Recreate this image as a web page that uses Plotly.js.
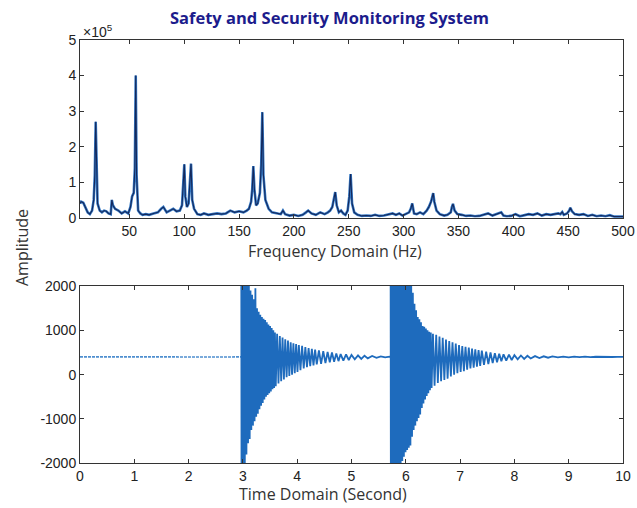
<!DOCTYPE html>
<html>
<head>
<meta charset="utf-8">
<script src="https://cdn.plot.ly/plotly-3.0.1.min.js"></script>
<style>html,body{margin:0;padding:0;background:#fff;}#chart{width:637px;height:508px;}</style>
</head>
<body>
<div id="chart"></div>
<script>
// ---------- Frequency domain spectrum (amplitude in units of 1e5) ----------
var specFreq = [5,6,8,10,12,14,16,17.5,18.5,19.3,20,21,23,25,27,29,31,33,34,35,37,40,43,46,49,51,52.5,54,55,55.8,56.6,58,60,62,65,68,72,76,79,81,84,87,90,93,96,98,99,100.1,101,102.5,104,105,106.2,107.3,109,112,115,118,122,126,130,134,138,142,146,150,154,157,159,161,162,163,164,165.5,167,169,170.2,171.2,172.2,174,177,180,184,188,190,192,196,200,204,208,211,213,216,220,224,228,231,233,235,236.5,237.7,239,241,243,245,247,249,250.5,251.7,253,255,258,262,266,270,274,278,282,286,290,293,296,299,302,305,306.5,307.9,309.5,312,315,318,321,323,325,326,327,328,330,333,337,340,343,344,345,346.5,349,353,357,361,365,369,373,377,381,385,387,389,391,394,398,402,406,410,414,418,422,426,430,434,438,441,443,444.6,446,449,451,452,453.5,456,460,464,468,472,476,480,484,488,492,496,500];
var specAmp = [0.4,0.45,0.42,0.3,0.15,0.1,0.2,0.5,1.2,2.7,1.5,0.4,0.2,0.15,0.2,0.18,0.12,0.1,0.5,0.35,0.25,0.2,0.12,0.18,0.12,0.3,0.6,0.7,1.4,4.0,1.2,0.2,0.12,0.08,0.1,0.08,0.12,0.15,0.25,0.3,0.15,0.2,0.25,0.18,0.2,0.35,0.8,1.5,0.6,0.3,0.4,0.8,1.52,0.5,0.25,0.1,0.08,0.12,0.08,0.1,0.12,0.1,0.12,0.2,0.15,0.18,0.15,0.2,0.25,0.45,0.8,1.45,0.8,0.35,0.4,0.7,1.5,2.97,1.2,0.5,0.25,0.15,0.12,0.1,0.2,0.1,0.06,0.08,0.05,0.08,0.15,0.2,0.12,0.08,0.15,0.1,0.15,0.2,0.3,0.5,0.72,0.35,0.15,0.2,0.12,0.08,0.2,0.6,1.23,0.4,0.15,0.08,0.05,0.06,0.05,0.08,0.05,0.06,0.1,0.12,0.08,0.12,0.06,0.1,0.15,0.25,0.4,0.12,0.1,0.15,0.1,0.2,0.3,0.45,0.55,0.69,0.45,0.2,0.1,0.06,0.08,0.15,0.3,0.39,0.2,0.1,0.08,0.05,0.06,0.04,0.05,0.08,0.12,0.06,0.1,0.12,0.15,0.06,0.04,0.05,0.1,0.04,0.06,0.1,0.08,0.12,0.06,0.1,0.08,0.1,0.12,0.1,0.16,0.08,0.12,0.2,0.28,0.18,0.1,0.08,0.1,0.05,0.08,0.04,0.06,0.04,0.07,0.03,0.04,0.03];

// ---------- Time domain signal ----------
var baseT = [0,0.5,1,1.5,2,2.5,2.97];
var baseV = [400,404,397,401,399,402,400];

var burst1T = [2.97,2.975,2.99,3.005,3.02,3.035,3.05,3.065,3.08,3.095,3.11,3.125,3.14,3.155,3.17,3.185,3.2,3.215,3.23,3.245,3.26,3.275,3.29,3.305,3.32,3.335,3.35,3.365,3.38,3.395,3.41,3.425,3.44,3.455,3.47,3.485,3.5,3.515,3.53,3.545,3.56,3.575,3.59,3.605,3.63,3.655,3.68,3.705,3.73,3.755,3.78,3.805,3.83,3.855,3.88,3.905,3.93,3.955,3.98,4.005,4.03,4.06,4.09,4.12,4.15,4.18,4.21,4.24,4.27,4.3,4.33,4.36,4.4,4.44,4.48,4.52,4.56,4.6,4.64,4.68,4.72,4.76,4.8,4.85,4.9,4.95,5.0,5.06,5.12,5.18,5.24,5.3,5.38,5.46,5.54,5.62,5.7,5.72];
var burst1V = [2600,-2600,2500,-2200,2400,-2100,2300,-1800,2150,-1550,2050,-1450,1900,-1250,1800,-1150,1700,-1050,1950,-950,1500,-880,1420,-780,1350,-700,1300,-640,1260,-560,1230,-500,1180,-460,1130,-420,1100,-380,1050,-330,1000,-300,950,-260,920,-200,870,-150,840,-110,800,-60,770,-30,730,0,710,30,690,60,670,100,650,140,620,170,600,190,580,210,565,230,545,245,530,260,510,280,500,290,480,305,465,315,455,330,445,345,435,355,428,368,420,378,412,388,405,398];

var burst2T = [5.72,5.725,5.74,5.755,5.77,5.785,5.8,5.815,5.83,5.845,5.86,5.875,5.89,5.905,5.92,5.935,5.95,5.965,5.98,5.995,6.01,6.025,6.04,6.055,6.07,6.085,6.1,6.115,6.13,6.145,6.16,6.175,6.19,6.205,6.22,6.235,6.25,6.265,6.28,6.295,6.31,6.325,6.34,6.355,6.37,6.385,6.4,6.415,6.43,6.445,6.46,6.475,6.5,6.53,6.56,6.59,6.62,6.65,6.68,6.71,6.74,6.77,6.8,6.83,6.86,6.89,6.92,6.95,6.98,7.01,7.04,7.07,7.1,7.13,7.16,7.19,7.22,7.25,7.28,7.31,7.34,7.37,7.4,7.44,7.48,7.52,7.56,7.6,7.64,7.68,7.72,7.76,7.8,7.85,7.9,7.95,8.0,8.06,8.12,8.18,8.24,8.3,8.38,8.46,8.54,8.62,8.7,8.8,8.9,9.0,9.1,9.2,9.3,9.4,9.5,9.6,9.7,9.8,9.9,10.0];
var burst2V = [2600,-2600,2600,-2600,2600,-2600,2600,-2500,2600,-2400,2500,-2300,2450,-2100,2400,-1950,2350,-1850,2300,-1750,2250,-1700,2200,-1650,2100,-1600,2000,-1400,1850,-1250,1600,-1150,1450,-1050,1300,-980,1250,-900,1180,-750,1100,-650,1080,-560,1040,-480,1000,-420,970,-350,950,-300,920,-250,900,-190,860,-150,830,-120,790,-90,760,-40,730,0,700,30,670,60,645,80,630,110,610,140,590,160,570,180,555,195,540,220,520,240,500,260,485,280,470,300,460,315,450,330,440,345,432,355,425,365,418,375,414,382,410,388,408,392,406,394,405,396,404,397,403,398,402,400];

// ---------- Tick labels ----------
var specTicks = [50,100,150,200,250,300,350,400,450,500];
var ampTicks = [0,1,2,3,4,5];
var timeTicks = [0,1,2,3,4,5,6,7,8,9,10];
var sigTicks = [-2000,-1000,0,1000,2000];
var sigTickText = ['-2000','-1000','0','1000','2000'];

var tickFont = {family: 'Liberation Sans, Arial, sans-serif', size: 14, color: '#222'};
var titleFont = {family: 'Open Sans, Noto Sans, sans-serif', size: 16, color: '#333'};

var traces = [
  {x: specFreq, y: specAmp, xaxis: 'x', yaxis: 'y', type: 'scatter', mode: 'lines',
   line: {color: '#3478c4', width: 2.6}, hoverinfo: 'skip'},
  {x: specFreq, y: specAmp, xaxis: 'x', yaxis: 'y', type: 'scatter', mode: 'lines',
   line: {color: '#13285c', width: 1.1}, hoverinfo: 'skip'},
  {x: baseT, y: baseV, xaxis: 'x2', yaxis: 'y2', type: 'scatter', mode: 'lines',
   line: {color: '#4f8fcf', width: 1.6, dash: '3px,1px'}, hoverinfo: 'skip'},
  {x: burst1T, y: burst1V, xaxis: 'x2', yaxis: 'y2', type: 'scatter', mode: 'lines',
   line: {color: '#1e6bbd', width: 1.8}, hoverinfo: 'skip'},
  {x: burst2T, y: burst2V, xaxis: 'x2', yaxis: 'y2', type: 'scatter', mode: 'lines',
   line: {color: '#1e6bbd', width: 1.8}, hoverinfo: 'skip'}
];

function axisBase() {
  return {showgrid: false, zeroline: false, showline: true, linecolor: '#333', linewidth: 1,
          mirror: 'ticks', ticks: 'inside', ticklen: 4, tickcolor: '#333', tickfont: tickFont,
          fixedrange: true};
}

var xa = axisBase(); xa.domain = [80/637, 623/637]; xa.range = [5, 500]; xa.tickvals = specTicks; xa.anchor = 'y';
var ya = axisBase(); ya.domain = [1 - 217.7/508, 1 - 40/508]; ya.range = [0, 5]; ya.tickvals = ampTicks; ya.anchor = 'x';
var xb = axisBase(); xb.domain = [80/637, 623/637]; xb.range = [0, 10]; xb.tickvals = timeTicks; xb.anchor = 'y2';
var yb = axisBase(); yb.domain = [1 - 463.3/508, 1 - 286/508]; yb.range = [-2000, 2000]; yb.tickvals = sigTicks; yb.ticktext = sigTickText; yb.anchor = 'x2';

var layout = {
  width: 637, height: 508,
  margin: {l: 0, r: 0, t: 0, b: 0},
  paper_bgcolor: '#fff', plot_bgcolor: '#fff',
  showlegend: false,
  xaxis: xa, yaxis: ya, xaxis2: xb, yaxis2: yb,
  annotations: [
    {text: '<b>Safety and Security Monitoring System</b>', xref: 'paper', yref: 'paper',
     x: 330/637, y: 1 - 17/508, xanchor: 'center', yanchor: 'middle', showarrow: false,
     font: {family: 'Open Sans, Noto Sans, sans-serif', size: 16.5, color: '#1c1c8c'}},
    {text: '\u00d710<sup>5</sup>', xref: 'paper', yref: 'paper',
     x: 81/637, y: 1 - 31/508, xanchor: 'left', yanchor: 'middle', showarrow: false,
     font: tickFont},
    {text: 'Frequency Domain (Hz)', xref: 'paper', yref: 'paper',
     x: 335/637, y: 1 - 251/508, xanchor: 'center', yanchor: 'middle', showarrow: false,
     font: titleFont},
    {text: 'Time Domain (Second)', xref: 'paper', yref: 'paper',
     x: 323/637, y: 1 - 494/508, xanchor: 'center', yanchor: 'middle', showarrow: false,
     font: titleFont},
    {text: 'Amplitude', xref: 'paper', yref: 'paper', textangle: -90,
     x: 22/637, y: 1 - 248/508, xanchor: 'center', yanchor: 'middle', showarrow: false,
     font: titleFont}
  ]
};

Plotly.newPlot('chart', traces, layout, {displayModeBar: false, staticPlot: true});
</script>
</body>
</html>
